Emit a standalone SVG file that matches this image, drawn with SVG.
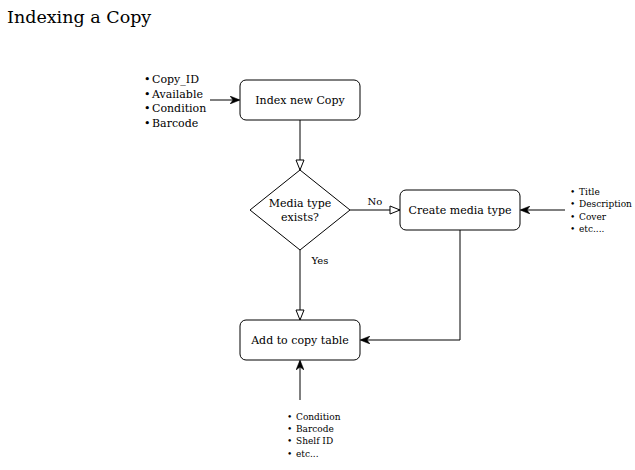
<svg xmlns="http://www.w3.org/2000/svg" width="635" height="470" viewBox="0 0 635 470">
<style>
text{font-family:"DejaVu Serif",serif;fill:#000}
.box{fill:#fff;stroke:#000;stroke-width:1}
.lbl{font-size:11px;text-anchor:middle;dominant-baseline:central}
.lst{font-size:11px}
.sm{font-size:9px}
.edge{fill:none;stroke:#000;stroke-width:1}
</style>
<defs>
<marker id="classic" viewBox="0 0 10 8" refX="9" refY="4" markerWidth="10" markerHeight="8" orient="auto" markerUnits="userSpaceOnUse">
<path d="M0,0 L10,4 L0,8 L3,4 z" fill="#000" stroke="#000" stroke-width="0.5"/>
</marker>
<marker id="open" viewBox="0 0 12 10" refX="11" refY="5" markerWidth="12" markerHeight="10" orient="auto" markerUnits="userSpaceOnUse">
<path d="M1,1 L11,5 L1,9 z" fill="#fff" stroke="#000" stroke-width="1"/>
</marker>
</defs>
<rect width="635" height="470" fill="#fff"/>
<text x="7" y="23" style="font-size:17.5px">Indexing a Copy</text>

<g id="edges">
<path class="edge" d="M210,100 L239,100" marker-end="url(#classic)"/>
<path class="edge" d="M300,120 L300,170" marker-end="url(#open)"/>
<path class="edge" d="M350,210 L400,210" marker-end="url(#open)"/>
<path class="edge" d="M300,250 L300,320" marker-end="url(#open)"/>
<path class="edge" d="M565,210 L521,210" marker-end="url(#classic)"/>
<path class="edge" d="M460,230 L460,340 L361,340" marker-end="url(#classic)"/>
<path class="edge" d="M300,400 L300,361" marker-end="url(#classic)"/>
<text x="375" y="205" style="font-size:10px" text-anchor="middle">No</text>
<text x="320" y="264" style="font-size:10px" text-anchor="middle">Yes</text>
</g>

<g id="list-copy">
<text class="lst" x="144" y="83">•<tspan x="152">Copy_ID</tspan></text>
<text class="lst" x="144" y="98">•<tspan x="152">Available</tspan></text>
<text class="lst" x="144" y="112">•<tspan x="152">Condition</tspan></text>
<text class="lst" x="144" y="127">•<tspan x="152">Barcode</tspan></text>
</g>

<g id="index-new-copy">
<rect class="box" x="240" y="80" width="120" height="40" rx="6"/>
<text class="lbl" x="300" y="100">Index new Copy</text>
</g>

<g id="media-type-exists">
<path class="box" d="M300,170 L350,210 L300,250 L250,210 z"/>
<text class="lbl" x="300" y="203">Media type</text>
<text class="lbl" x="300" y="217">exists?</text>
</g>

<g id="create-media-type">
<rect class="box" x="400" y="190" width="120" height="40" rx="6"/>
<text class="lbl" x="460" y="210">Create media type</text>
</g>

<g id="list-media">
<text class="sm" x="570" y="195">•<tspan x="579">Title</tspan></text>
<text class="sm" x="570" y="207">•<tspan x="579">Description</tspan></text>
<text class="sm" x="570" y="220">•<tspan x="579">Cover</tspan></text>
<text class="sm" x="570" y="232">•<tspan x="579">etc....</tspan></text>
</g>

<g id="add-to-copy-table">
<rect class="box" x="240" y="320" width="120" height="40" rx="6"/>
<text class="lbl" x="300" y="340">Add to copy table</text>
</g>

<g id="list-add">
<text class="sm" x="287" y="420">•<tspan x="296">Condition</tspan></text>
<text class="sm" x="287" y="432">•<tspan x="296">Barcode</tspan></text>
<text class="sm" x="287" y="444">•<tspan x="296">Shelf ID</tspan></text>
<text class="sm" x="287" y="457">•<tspan x="296">etc...</tspan></text>
</g>
</svg>
